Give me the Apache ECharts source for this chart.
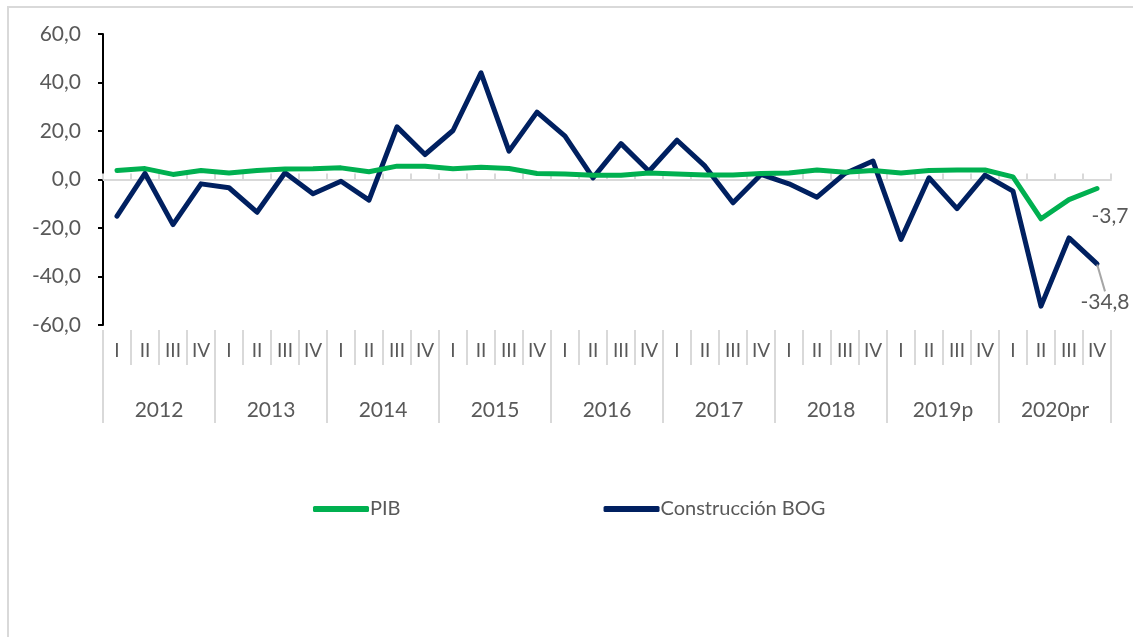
<!DOCTYPE html>
<html>
<head>
<meta charset="utf-8">
<script src="https://cdn.jsdelivr.net/npm/echarts@6/dist/echarts.min.js"></script>
<style>
html, body { margin: 0; padding: 0; background: #fff; }
#frame { position: absolute; left: 7px; top: 6px; width: 1140px; height: 640px; border: 2px solid #d9d9d9; box-sizing: border-box; }
#main { position: absolute; left: 0; top: 0; width: 1133px; height: 637px; }
</style>
</head>
<body>
<div id="frame"></div>
<div id="main"></div>
<script>
// trimestres y años
const quarters = ['I', 'II', 'III', 'IV']
const years = ['2012', '2013', '2014', '2015', '2016', '2017', '2018', '2019p', '2020pr']
const categories = []
years.forEach(function (y) {
    quarters.forEach(function (q) { categories.push(y + ' ' + q) })
})

// variación anual (%)
const pib = [
    3.7, 4.5, 2.1, 3.7, 2.7, 3.7, 4.3, 4.4, 4.8, 3.2, 5.5, 5.5,
    4.4, 5.1, 4.5, 2.5, 2.3, 1.8, 1.8, 2.7, 2.3, 1.9, 1.9, 2.5,
    2.7, 3.9, 3.0, 3.7, 2.7, 3.7, 3.9, 3.9, 1.1, -16.2, -8.3, -3.7
]
const construccion = [
    -15.1, 2.5, -18.6, -1.8, -3.4, -13.5, 2.8, -5.9, -0.7, -8.5, 21.7, 10.3,
    20.2, 44.0, 11.7, 27.8, 17.9, 0.7, 14.8, 3.4, 16.2, 5.5, -9.6, 2.1,
    -1.8, -7.3, 2.5, 7.6, -24.7, 0.7, -12.0, 1.8, -4.8, -52.2, -24.1, -34.8
]

const font = 'Lato'
const gray = '#595959'
const green = '#00b050'
const navy = '#002060'
const fmt = function (v) { return v.toFixed(1).replace('.', ',') }

// solo la última cifra lleva etiqueta
function withEndLabel (arr, label) {
    return arr.map(function (v, i) {
        if (i !== arr.length - 1) return v
        return { value: v, label: label }
    })
}

const chart = echarts.init(document.getElementById('main'))
const option = {
    animation: false,
    textStyle: { fontFamily: font },
    grid: { left: 103, right: 22, top: 34, bottom: 312 },
    legend: {
        left: 308,
        top: 494,
        itemGap: 203,
        itemWidth: 56,
        itemHeight: 6,
        icon: 'roundRect',
        textStyle: { fontFamily: font, fontSize: 20, color: gray, padding: [0, 0, 0, -4] },
        data: [
            { name: 'PIB', itemStyle: { color: green, opacity: 1 } },
            { name: 'Construcción BOG', itemStyle: { color: navy, opacity: 1 } }
        ]
    },
    xAxis: [
        {
            type: 'category',
            data: categories,
            axisLine: { onZero: true, lineStyle: { color: '#d9d9d9', width: 2 } },
            axisTick: { show: true, inside: true, length: 6, interval: 0, lineStyle: { color: '#d9d9d9', width: 2 } },
            axisLabel: { show: false }
        },
        {
            type: 'category',
            data: categories,
            position: 'bottom',
            offset: 5,
            axisLine: { show: false, onZero: false },
            axisTick: { show: true, length: 35, interval: 0, lineStyle: { color: '#d9d9d9', width: 2 } },
            axisLabel: {
                interval: 0,
                margin: 11,
                fontFamily: font,
                fontSize: 19,
                color: gray,
                formatter: function (v) { return v.split(' ')[1] }
            }
        },
        {
            type: 'category',
            data: years,
            position: 'bottom',
            offset: 5,
            axisLine: { show: false, onZero: false },
            axisTick: { show: true, length: 93, interval: 0, lineStyle: { color: '#d9d9d9', width: 2 } },
            axisLabel: { interval: 0, margin: 70, fontFamily: font, fontSize: 21, color: gray }
        }
    ],
    yAxis: {
        type: 'value',
        min: -60,
        max: 60,
        interval: 20,
        splitLine: { show: false },
        axisLine: { show: true, onZero: false, lineStyle: { color: '#000', width: 2 } },
        axisTick: { show: true, length: 5, lineStyle: { color: '#000', width: 2 } },
        axisLabel: { margin: 22, fontFamily: font, fontSize: 21, color: gray, formatter: fmt }
    },
    series: [
        {
            name: 'PIB',
            type: 'line',
            xAxisIndex: 0,
            symbol: 'circle',
            symbolSize: 1,
            showSymbol: true,
            color: green,
            lineStyle: { width: 5, color: green, cap: 'round', join: 'round' },
            itemStyle: { color: green },
            label: { show: false },
            data: withEndLabel(pib, {
                show: true,
                position: 'bottom',
                offset: [13, 12],
                fontFamily: font,
                fontSize: 21,
                color: gray,
                formatter: function (p) { return fmt(p.value) }
            }),
            z: 3
        },
        {
            name: 'Construcción BOG',
            type: 'line',
            xAxisIndex: 0,
            symbol: 'circle',
            symbolSize: 1,
            showSymbol: true,
            color: navy,
            lineStyle: { width: 5, color: navy, cap: 'round', join: 'round' },
            itemStyle: { color: navy },
            label: { show: false },
            labelLine: { show: true, lineStyle: { color: '#a6a6a6', width: 2 } },
            labelLayout: { dx: 8, dy: 22 },
            data: withEndLabel(construccion, {
                show: true,
                position: 'bottom',
                fontFamily: font,
                fontSize: 21,
                color: gray,
                formatter: function (p) { return fmt(p.value) }
            }),
            z: 2
        }
    ]
}
chart.setOption(option)
window.addEventListener('resize', function () {
    chart.resize()
})
</script>
</body>
</html>
